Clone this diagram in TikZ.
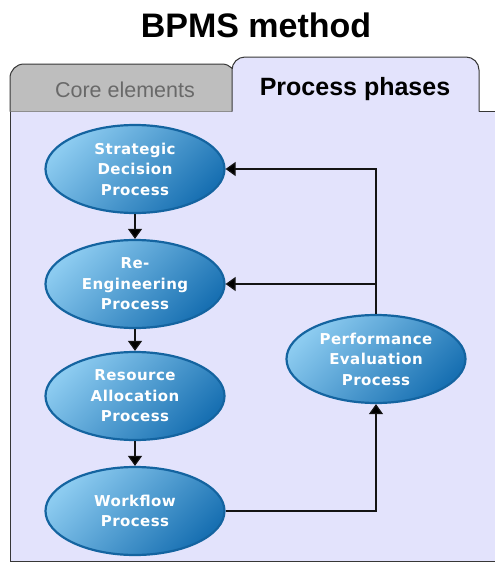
\documentclass[tikz,border=0pt]{standalone}
\usepackage{fontspec}
\setmainfont{Liberation Sans}
\newfontfamily\ellfont[LetterSpace=3]{DejaVu Sans}
\usetikzlibrary{shapes.geometric,arrows.meta}
\definecolor{panelbg}{RGB}{227,227,252}
\definecolor{tabgray}{RGB}{190,190,190}
\definecolor{coretext}{RGB}{105,105,105}
\definecolor{elllight}{RGB}{140,203,240}
\definecolor{elldark}{RGB}{24,112,178}
\definecolor{ellborder}{RGB}{20,100,160}
\definecolor{linecol}{RGB}{20,20,20}
\definecolor{tabline}{RGB}{55,55,55}
\tikzset{
  proc/.style={ellipse, draw=ellborder, line width=2.2pt, left color=elllight, right color=elldark, shading angle=45,
    minimum width=179pt, minimum height=88pt, inner sep=0pt, align=center, text=white,
    font=\ellfont\bfseries\fontsize{15}{20.5}\selectfont},
  conn/.style={-{Triangle[width=14pt,length=10pt,fill=black]}, line width=1.2pt, draw=linecol},
  tabedge/.style={draw=tabline, line width=1pt}
}
\begin{document}
\begin{tikzpicture}[x=1pt,y=-1pt]
\clip (0,0) rectangle (495,563);
\fill[white] (0,0) rectangle (495,563);
% panel
\draw[tabedge, fill=panelbg] (10,111.5) rectangle (510,561);
% left tab
\draw[tabedge, fill=tabgray, rounded corners=14] (10,111.5) -- (10,64) -- (236,64) -- (236,111.5);
% right tab
\fill[panelbg, rounded corners=13] (232,150) -- (232,57) -- (479,57) -- (479,150) -- cycle;
\draw[tabedge, rounded corners=13] (232,111.5) -- (232,57) -- (479,57) -- (479,111.5);
\draw[tabedge] (479,111.5) -- (500,111.5);
% texts
\node[anchor=base, font=\bfseries\fontsize{34}{40}\selectfont] (title) at (256,37.5) {BPMS method};
\node[anchor=base, font=\bfseries\fontsize{25}{30}\selectfont] (tabB) at (355,95) {Process phases};
\node[anchor=base, text=coretext, font=\fontsize{21.5}{26}\selectfont] (tabA) at (125,97) {Core elements};
% process nodes
\node[proc] (sd) at (135,169) {Strategic\\Decision\\Process};
\node[proc] (re) at (135,284) {Re-\\Engineering\\Process};
\node[proc] (ra) at (135,396) {Resource\\Allocation\\Process};
\node[proc] (wf) at (135,511) {Workflow\\Process};
\node[proc] (pe) at (376,359) {Performance\\Evaluation\\Process};
% connectors
\draw[conn] (sd) -- (re);
\draw[conn] (re) -- (ra);
\draw[conn] (ra) -- (wf);
\draw[conn] (wf.east) -| (pe.south);
\draw[conn] (pe.north) |- (sd.east);
\draw[conn] (pe.north) |- (re.east);
\end{tikzpicture}
\end{document}
